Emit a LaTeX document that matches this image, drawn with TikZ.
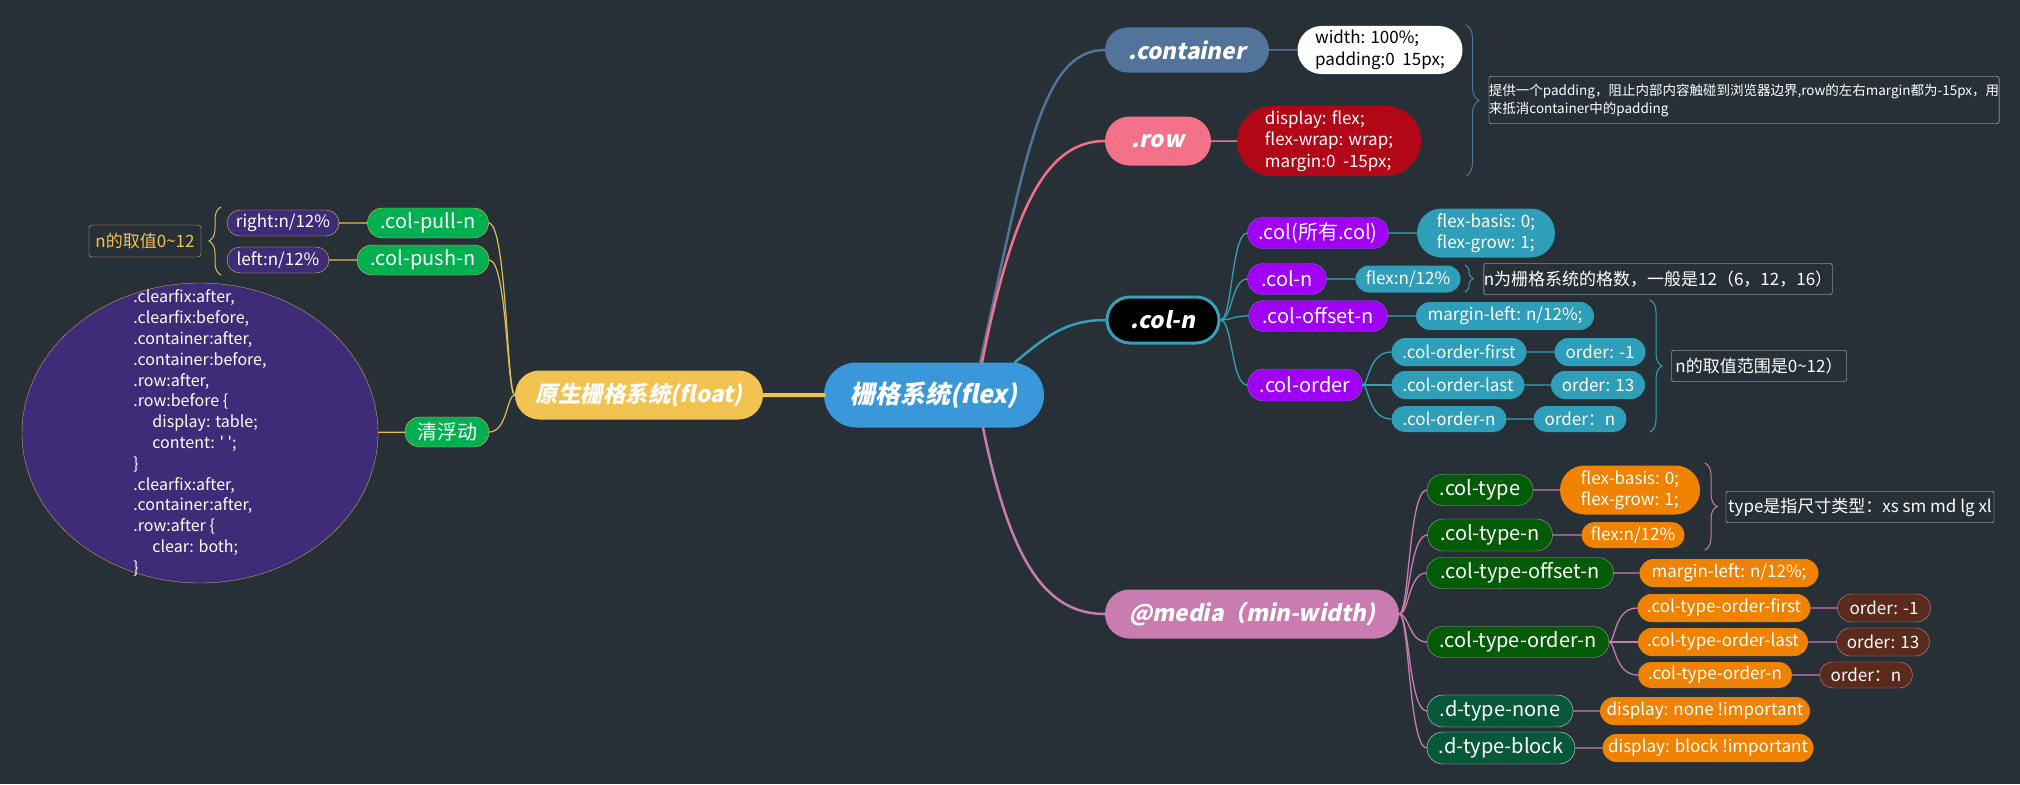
\documentclass[tikz,border=0pt]{standalone}
\usepackage{fontspec}
\setmainfont{Noto Sans CJK SC}
\newfontfamily\slanted{Noto Sans CJK SC}[UprightFeatures={FakeSlant=0.2}, BoldFeatures={FakeSlant=0.2}]
\usetikzlibrary{shapes.misc, shapes.geometric, decorations.pathreplacing}

\definecolor{bg}{HTML}{283037}
\definecolor{flexblue}{HTML}{3A97DA}
\definecolor{floatyel}{HTML}{F3C352}
\definecolor{floatline}{HTML}{E0BC55}
\definecolor{floatgreen}{HTML}{00B050}
\definecolor{floatpurple}{HTML}{3F2C78}
\definecolor{cssline}{HTML}{C0A062}
\definecolor{contblue}{HTML}{52739A}
\definecolor{rowpink}{HTML}{F4718A}
\definecolor{boxred}{HTML}{B20717}
\definecolor{colteal}{HTML}{35A0B8}
\definecolor{leafteal}{HTML}{2F9EB8}
\definecolor{kidviolet}{HTML}{A000F4}
\definecolor{kidvioletline}{HTML}{7E63DA}
\definecolor{mediapink}{HTML}{C97CB0}
\definecolor{kidgreen}{HTML}{045B06}
\definecolor{kidgreenline}{HTML}{8FA88F}
\definecolor{dgreen}{HTML}{075839}
\definecolor{leaforange}{HTML}{EF8300}
\definecolor{leafbrown}{HTML}{5A2A1C}
\definecolor{brownline}{HTML}{C98A9A}
\definecolor{notegray}{HTML}{D8DCE0}

\newcommand\fflex{\fontsize{25}{30}\selectfont\slanted\bfseries}
\newcommand\fmain{\fontsize{22.5}{27}\selectfont\slanted\bfseries}
\newcommand\fkid{\fontsize{20}{24}\selectfont}
\newcommand\fleaf{\fontsize{17}{21.5}\selectfont}
\newcommand\fnote{\fontsize{13.5}{18}\selectfont}
\newcommand\fcode{\fontsize{16}{20.8}\selectfont}

\begin{document}
\begin{tikzpicture}[x=1pt, y=-1pt, line cap=round,
  pill/.style={rounded rectangle, inner sep=0pt, text=white, align=left},
  main/.style={pill, fill=#1, minimum height=49, font=\fmain},
  kid/.style={pill, fill=#1, minimum height=31, font=\fkid},
  leaf/.style={pill, fill=#1, minimum height=28, font=\fleaf},
  note/.style={draw=notegray, rounded corners=2, inner sep=0pt, text=white, font=\fnote, align=left},
  sum/.style={decorate, decoration={brace, amplitude=#1}, line width=1},
  twig/.style 2 args={to path={.. controls +(#1,0) and +(#2,0) .. (\tikztotarget)}},
  ]
  \fill[bg] (0,0) rectangle (2020,784);

  % root
  \node[pill, fill=flexblue, minimum width=220, minimum height=65, font=\fflex] (flex) at (934,395) {栅格系统(flex)};

  % float side
  \node[main=floatyel, minimum width=248] (float) at (639,395) {原生栅格系统(float)};
  \node[kid=floatgreen, draw=floatline, minimum width=121, minimum height=30] (pulln) at (428,223) {.col-pull-n};
  \node[kid=floatgreen, draw=floatline, minimum width=132, minimum height=30] (pushn) at (423,260) {.col-push-n};
  \node[kid=floatgreen, draw=floatline, minimum width=84, minimum height=30] (qfd) at (447,432) {清浮动};
  \node[leaf=floatpurple, draw=floatline, minimum width=112, minimum height=26] (pullv) at (283,223) {right:n/12\%};
  \node[leaf=floatpurple, draw=floatline, minimum width=102, minimum height=26] (pushv) at (278,260) {left:n/12\%};
  \node[draw=floatline, rounded corners=3, text=floatyel, font=\fleaf, minimum width=112, minimum height=32, inner sep=0pt] (nrange) at (145,241) {n的取值0\textasciitilde12};
  \draw[floatline, sum=12] (221,275) -- (221,207);
  \node[ellipse, draw=cssline, fill=floatpurple, minimum width=356, minimum height=300, inner sep=0pt] (css) at (200,433) {};
  \node[text=white, align=left, font=\fcode, inner sep=0pt] (csstext) at (css.center) {.clearfix:after,\\
    .clearfix:before,\\
    .container:after,\\
    .container:before,\\
    .row:after,\\
    .row:before \{\\
    \hspace*{19pt}display: table;\\
    \hspace*{19pt}content: \textquotesingle\ \textquotesingle;\\
    \}\\
    .clearfix:after,\\
    .container:after,\\
    .row:after \{\\
    \hspace*{19pt}clear: both;\\
    \}};

  \draw[floatyel, line width=4] (float) -- (flex);
  \foreach \k in {pulln, pushn, qfd}
    \draw[floatline, line width=1.2] (float.west) to[twig={-8}{18}] (\k.east);
  \draw[floatline, line width=1.2] (pulln) -- (pullv);
  \draw[floatline, line width=1.2] (pushn) -- (pushv);
  \draw[floatline, line width=1.2] (qfd) -- (css);

  % .container and .row
  \node[main=contblue, minimum width=164, minimum height=45] (container) at (1187,50) {.container};
  \node[leaf=white, text=black, minimum width=165, minimum height=48] (contv) at (1380,50) {width: 100\%;\\padding:0\ \ 15px;};
  \node[main=rowpink, minimum width=106] (row) at (1158,141) {.row};
  \node[leaf=boxred, minimum width=184, minimum height=70] (rowv) at (1329,141) {display: flex;\\flex-wrap: wrap;\\margin:0\ \ -15px;};
  \draw[contblue, sum=13] (1466,25) -- (1466,176);
  \node[note, minimum width=510, minimum height=47] (note1) at (1744,100) {提供一个padding，阻止内部内容触碰到浏览器边界,row的左右margin都为-15px，用\\来抵消container中的padding};

  % .col-n
  \node[main=black, draw=colteal, line width=3, minimum width=112, minimum height=46] (coln) at (1163,320) {.col-n};
  \node[kid=kidviolet, draw=kidvioletline, minimum width=141] (colall) at (1318,233) {.col(所有.col)};
  \node[leaf=leafteal, minimum width=138, minimum height=49] (colallv) at (1486,233) {flex-basis: 0;\\flex-grow: 1;};
  \node[kid=kidviolet, draw=kidvioletline, minimum width=79] (colnn) at (1287,279) {.col-n};
  \node[leaf=leafteal, minimum width=105, minimum height=27] (colnnv) at (1408,279) {flex:n/12\%};
  \draw[colteal, sum=8] (1465,265) -- (1465,292);
  \node[note, font=\fleaf, minimum width=343, minimum height=31] (note2) at (1658,279) {n为栅格系统的格数，一般是12（6，12，16）};
  \node[kid=kidviolet, draw=kidvioletline, minimum width=139] (offn) at (1318,316) {.col-offset-n};
  \node[leaf=leafteal, minimum width=178] (offnv) at (1505,316) {margin-left: n/12\%;};
  \node[kid=kidviolet, draw=kidvioletline, minimum width=115, minimum height=32] (order) at (1305,385) {.col-order};
  \node[leaf=leafteal, minimum width=135] (ofirst) at (1459,352) {.col-order-first};
  \node[leaf=leafteal, minimum width=91] (ofirstv) at (1600,352) {order: -1};
  \node[leaf=leafteal, minimum width=133] (olast) at (1458,385) {.col-order-last};
  \node[leaf=leafteal, minimum width=94] (olastv) at (1598,385) {order: 13};
  \node[leaf=leafteal, minimum width=115, minimum height=26] (ordn) at (1449,419) {.col-order-n};
  \node[leaf=leafteal, minimum width=93, minimum height=26] (ordnv) at (1580,419) {order：n};
  \draw[colteal, sum=12] (1650,300) -- (1650,432);
  \node[note, font=\fleaf, minimum width=175, minimum height=31] (note3) at (1759,366) {n的取值范围是0\textasciitilde12）};

  \foreach \k in {colall, colnn, offn, order}
    \draw[colteal, line width=1.3] (coln.east) to[twig={12}{-16}] (\k.west);
  \foreach \k in {ofirst, olast, ordn}
    \draw[colteal, line width=1.3] (order.east) to[twig={6}{-23}] (\k.west);
  \foreach \k/\v in {colall/colallv, colnn/colnnv, offn/offnv, ofirst/ofirstv, olast/olastv, ordn/ordnv}
    \draw[colteal, line width=1.3] (\k) -- (\v);

  % @media
  \node[main=mediapink, minimum width=294] (media) at (1252,614) {@media（min-width)};
  \node[kid=kidgreen, draw=kidgreenline, minimum width=106] (ctype) at (1480,490) {.col-type};
  \node[leaf=leaforange, minimum width=140, minimum height=49] (ctypev) at (1630,490) {flex-basis: 0;\\flex-grow: 1;};
  \node[kid=kidgreen, draw=kidgreenline, minimum width=125, minimum height=32] (ctypen) at (1490,535) {.col-type-n};
  \node[leaf=leaforange, minimum width=103, minimum height=26] (ctypenv) at (1633,535) {flex:n/12\%};
  \draw[mediapink, sum=12] (1705,463) -- (1705,550);
  \node[note, font=\fleaf, minimum width=268, minimum height=31] (note4) at (1860,507) {type是指尺寸类型：xs sm md lg xl};
  \node[kid=kidgreen, draw=kidgreenline, minimum width=187] (ctoff) at (1520,573) {.col-type-offset-n};
  \node[leaf=leaforange, minimum width=179] (ctoffv) at (1729,573) {margin-left: n/12\%;};
  \node[kid=kidgreen, draw=kidgreenline, minimum width=182] (ctord) at (1518,642) {.col-type-order-n};
  \node[leaf=leaforange, minimum width=173] (ctfirst) at (1724,608) {.col-type-order-first};
  \node[leaf=leafbrown, draw=brownline, minimum width=93] (ctfirstv) at (1884,608) {order: -1};
  \node[leaf=leaforange, minimum width=170] (ctlast) at (1723,642) {.col-type-order-last};
  \node[leaf=leafbrown, draw=brownline, minimum width=93] (ctlastv) at (1883,642) {order: 13};
  \node[leaf=leaforange, minimum width=154, minimum height=26] (ctn) at (1715,675) {.col-type-order-n};
  \node[leaf=leafbrown, draw=brownline, minimum width=93, minimum height=26] (ctnv) at (1866,675) {order：n};
  \node[kid=dgreen, draw=notegray, minimum width=146, minimum height=32] (dnone) at (1500,711) {.d-type-none};
  \node[leaf=leaforange, minimum width=210] (dnonev) at (1705,711) {display: none !important};
  \node[kid=dgreen, draw=notegray, minimum width=148, minimum height=32] (dblock) at (1501,748) {.d-type-block};
  \node[leaf=leaforange, minimum width=211] (dblockv) at (1708,748) {display: block !important};

  \foreach \k in {ctype, ctypen, ctoff, ctord, dnone, dblock}
    \draw[mediapink, line width=1.3] (media.east) to[twig={10}{-18}] (\k.west);
  \foreach \k in {ctfirst, ctlast, ctn}
    \draw[mediapink, line width=1.3] (ctord.east) to[twig={6}{-23}] (\k.west);
  \foreach \k/\v in {ctype/ctypev, ctypen/ctypenv, ctoff/ctoffv, ctfirst/ctfirstv, ctlast/ctlastv, ctn/ctnv, dnone/dnonev, dblock/dblockv}
    \draw[mediapink, line width=1.3] (\k) -- (\v);

  % root branches
  \draw[contblue, line width=2.5] ([xshift=46]flex.north) .. controls +(45,-200) and +(-65,0) .. (container.west);
  \draw[rowpink, line width=2.5] ([xshift=48]flex.north) .. controls +(30,-150) and +(-60,0) .. (row.west);
  \draw[colteal, line width=2.5] ([xshift=81]flex.north) .. controls +(30,-25) and +(-40,0) .. (coln.west);
  \draw[mediapink, line width=2.5] ([xshift=49]flex.south) .. controls +(27,132) and +(-60,0) .. (media.west);
  \draw[contblue, line width=1.5] (container) -- (contv);
  \draw[rowpink, line width=1.5] (row) -- (rowv);
\end{tikzpicture}
\end{document}
